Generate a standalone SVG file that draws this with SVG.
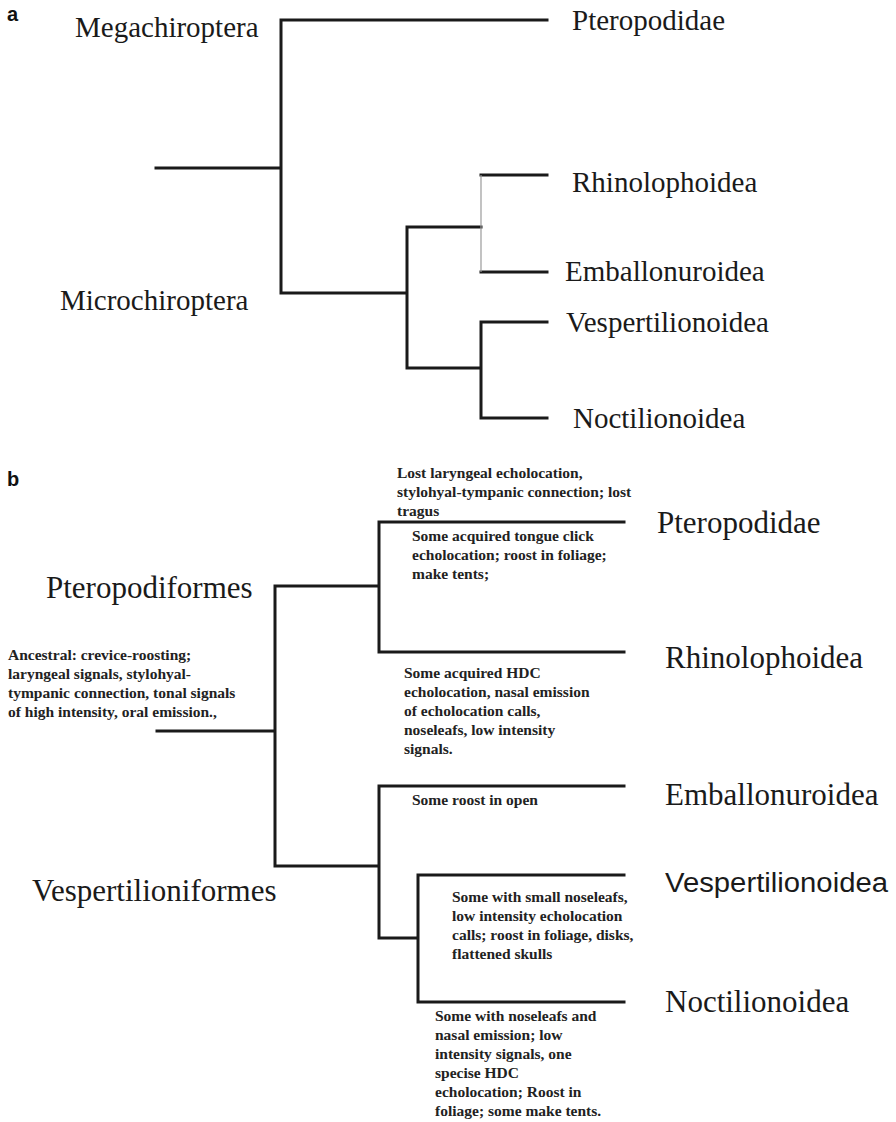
<svg xmlns="http://www.w3.org/2000/svg" width="896" height="1122" viewBox="0 0 896 1122">
<style>
.ln{stroke:#1a1a1a;stroke-width:3;fill:none;stroke-linecap:square}
.thin{stroke:#9a9a9a;stroke-width:1.2;fill:none}
.big{font-family:"Liberation Serif","Times New Roman",serif;fill:#1a1a1a}
.a{font-size:29px}
.b{font-size:31px}
.note{font-family:"Liberation Serif","Times New Roman",serif;font-size:15.5px;font-weight:bold;fill:#222}
.pl{font-family:"Liberation Sans",Arial,sans-serif;font-weight:bold;font-size:20px;fill:#111}
</style>
<rect width="896" height="1122" fill="#fff"/>
<text class="pl" x="7" y="21">a</text>
<text class="pl" x="7" y="486">b</text>
<g id="connectors">
<path class="ln" d="M156,168H281M281,20V293M281,20H547M281,293H407M407,227V368M407,227H481M481,175H547M481,272H547M407,368H481M481,322V418M481,322H547M481,418H547"/>
<path class="thin" d="M481,175V272"/>
<path class="ln" d="M157,731H275M275,586V866M275,586H379M379,522V652M379,522H624M379,652H624M275,866H379M379,786V938M379,786H624M379,938H418M418,875V1002M418,875H624M418,1002H624"/>
</g>
<g id="a-megachiroptera"><text class="big a" x="75" y="37">Megachiroptera</text></g>
<g id="a-microchiroptera"><text class="big a" x="60" y="310">Microchiroptera</text></g>
<g id="a-pteropodidae"><text class="big a" x="572" y="30">Pteropodidae</text></g>
<g id="a-rhinolophoidea"><text class="big a" x="572" y="192">Rhinolophoidea</text></g>
<g id="a-emballonuroidea"><text class="big a" x="565" y="281">Emballonuroidea</text></g>
<g id="a-vespertilionoidea"><text class="big a" x="566" y="332">Vespertilionoidea</text></g>
<g id="a-noctilionoidea"><text class="big a" x="573" y="428">Noctilionoidea</text></g>
<g id="b-pteropodiformes"><text class="big b" x="46" y="598">Pteropodiformes</text></g>
<g id="b-vespertilioniformes"><text class="big b" x="32" y="901">Vespertilioniformes</text></g>
<g id="b-pteropodidae"><text class="big b" x="657" y="533">Pteropodidae</text></g>
<g id="b-rhinolophoidea"><text class="big b" x="665" y="668">Rhinolophoidea</text></g>
<g id="b-emballonuroidea"><text class="big b" x="665" y="805">Emballonuroidea</text></g>
<g id="b-vespertilionoidea"><text x="665" y="892" font-family="'Liberation Sans',Arial,sans-serif" font-size="27" fill="#1a1a1a" textLength="223" lengthAdjust="spacingAndGlyphs">Vespertilionoidea</text></g>
<g id="b-noctilionoidea"><text class="big b" x="665" y="1012">Noctilionoidea</text></g>
<g id="note-ancestral" class="note">
<text x="8" y="660">Ancestral: crevice-roosting;</text>
<text x="8" y="679">laryngeal signals, stylohyal-</text>
<text x="8" y="698">tympanic connection, tonal signals</text>
<text x="8" y="717">of high intensity, oral emission.,</text>
</g>
<g id="note-lost" class="note">
<text x="397" y="478">Lost laryngeal echolocation,</text>
<text x="397" y="497">stylohyal-tympanic connection; lost</text>
<text x="397" y="516">tragus</text>
</g>
<g id="note-tongue" class="note">
<text x="412" y="541">Some acquired tongue click</text>
<text x="412" y="560">echolocation; roost in foliage;</text>
<text x="412" y="579">make tents;</text>
</g>
<g id="note-hdc" class="note">
<text x="404" y="678">Some acquired HDC</text>
<text x="404" y="697">echolocation, nasal emission</text>
<text x="404" y="716">of echolocation calls,</text>
<text x="404" y="735">noseleafs, low intensity</text>
<text x="404" y="754">signals.</text>
</g>
<g id="note-open" class="note"><text x="412" y="805">Some roost in open</text></g>
<g id="note-small" class="note">
<text x="452" y="902">Some with small noseleafs,</text>
<text x="452" y="921">low intensity echolocation</text>
<text x="452" y="940">calls; roost in foliage, disks,</text>
<text x="452" y="959">flattened skulls</text>
</g>
<g id="note-nasal" class="note">
<text x="435" y="1021">Some with noseleafs and</text>
<text x="435" y="1040">nasal emission; low</text>
<text x="435" y="1059">intensity signals, one</text>
<text x="435" y="1078">specise HDC</text>
<text x="435" y="1097">echolocation; Roost in</text>
<text x="435" y="1116">foliage; some make tents.</text>
</g>
</svg>
